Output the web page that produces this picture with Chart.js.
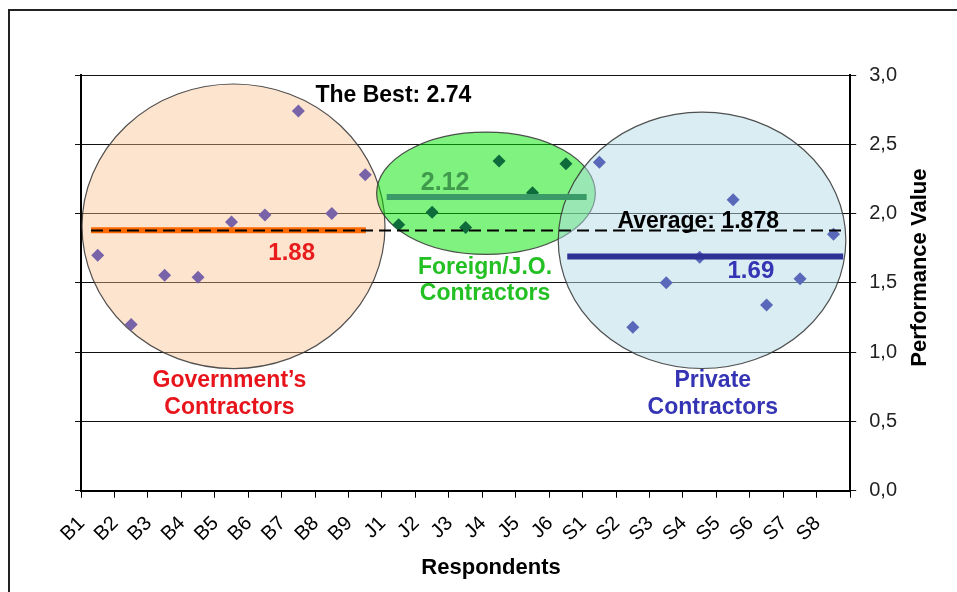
<!DOCTYPE html>
<html>
<head>
<meta charset="utf-8">
<title>Performance Value by Respondent</title>
<script src="https://cdn.jsdelivr.net/npm/chart.js@4/dist/chart.umd.min.js"></script>
<style>
  html, body { margin: 0; padding: 0; background: #fff; }
  #wrap { width: 957px; height: 592px; position: relative; }
</style>
</head>
<body>
<div id="wrap"><canvas id="chart" width="957" height="592"></canvas></div>
<script>
// ---- data ----
const govRespondents = ['B1', 'B2', 'B3', 'B4', 'B5', 'B6', 'B7', 'B8', 'B9'];
const foreignRespondents = ['J1', 'J2', 'J3', 'J4', 'J5', 'J6'];
const privateRespondents = ['S1', 'S2', 'S3', 'S4', 'S5', 'S6', 'S7', 'S8'];

const govValues = [1.70, 1.20, 1.555, 1.54, 1.94, 1.99, 2.74, 2.00, 2.28];
const foreignValues = [1.92, 2.01, 1.90, 2.38, 2.15, 2.36];
const privateValues = [2.37, 1.18, 1.50, 1.685, 2.10, 1.34, 1.53, 1.85];

const groupMeans = [1.88, 2.12, 1.69];   // Government, Foreign/J.O., Private
const overallAverage = 1.878;
const bestValue = 2.74;

const yTickValues = [0, 0.5, 1.0, 1.5, 2.0, 2.5, 3.0];

// ---- derived series ----
const respondents = [...govRespondents, ...foreignRespondents, ...privateRespondents];
const performance = [...govValues, ...foreignValues, ...privateValues];

const FONT = "'Liberation Sans', Arial, Helvetica, sans-serif";
const pointColors = [
  ...govValues.map(() => '#7862a8'),
  ...foreignValues.map(() => '#0e6b3b'),
  ...privateValues.map(() => '#5a68ba')
];

// Horizontal extent of each mean bar, in category-index units
const meanSpans = [[-0.2, 8.02], [8.64, 14.62], [14.04, 22.29]];
const meanColors = ['#ff6a00', '#3a9a68', '#2e3196'];
const averageSpan = [-0.2, 22.38];

// Group outlines (category-index / value units)
const groupShapes = [
  { cx: 4.06, rx: 4.53, cy: 1.908, ry: 1.027, fill: 'rgba(250,190,140,0.42)' },
  { cx: 11.61, rx: 3.27, cy: 2.147, ry: 0.441, fill: 'rgba(0,230,0,0.5)' },
  { cx: 18.07, rx: 4.30, cy: 1.807, ry: 0.925, fill: 'rgba(180,220,230,0.5)' }
];

// Text annotations (category-index / value units)
const notes = [
  { text: 'The Best: ' + bestValue.toFixed(2), x: 6.51, y: 2.85, color: '#000', size: 23, align: 'left' },
  { text: groupMeans[0].toFixed(2), x: 5.80, y: 1.71, color: '#e81c1c', size: 24, align: 'center' },
  { text: 'Government\u2019s', x: 3.94, y: 0.795, color: '#e8141c', size: 23, align: 'center' },
  { text: 'Contractors', x: 3.94, y: 0.60, color: '#e8141c', size: 23, align: 'center' },
  { text: groupMeans[1].toFixed(2), x: 10.39, y: 2.219, color: '#3f9a4c', size: 25, align: 'center' },
  { text: 'Foreign/J.O.', x: 11.58, y: 1.612, color: '#22c022', size: 23, align: 'center' },
  { text: 'Contractors', x: 11.58, y: 1.424, color: '#22c022', size: 23, align: 'center' },
  { text: 'Average: ' + overallAverage.toFixed(3), x: 15.54, y: 1.945, color: '#000', size: 23, align: 'left' },
  { text: groupMeans[2].toFixed(2), x: 19.53, y: 1.583, color: '#3434b4', size: 24, align: 'center' },
  { text: 'Private', x: 18.39, y: 0.795, color: '#3434b4', size: 23, align: 'center' },
  { text: 'Contractors', x: 18.39, y: 0.60, color: '#3434b4', size: 23, align: 'center' }
];

const decor = {
  id: 'decor',
  beforeDraw(chart) {
    const ctx = chart.ctx;
    ctx.save();
    ctx.fillStyle = '#fff';
    ctx.fillRect(0, 0, chart.width, chart.height);
    ctx.strokeStyle = '#222';
    ctx.lineWidth = 2;
    ctx.strokeRect(9, 10, chart.width + 20, chart.height + 20);
    ctx.restore();
  },
  beforeDatasetsDraw(chart) {
    const ctx = chart.ctx;
    const xs = chart.scales.xs, y = chart.scales.y;
    ctx.save();
    groupShapes.forEach(s => {
      const px = xs.getPixelForValue(s.cx);
      const rx = xs.getPixelForValue(s.cx + s.rx) - px;
      const py = y.getPixelForValue(s.cy);
      const ry = py - y.getPixelForValue(s.cy + s.ry);
      ctx.beginPath();
      ctx.ellipse(px, py, rx, ry, 0, 0, Math.PI * 2);
      ctx.fillStyle = s.fill;
      ctx.fill();
      ctx.strokeStyle = 'rgba(50,50,50,0.85)';
      ctx.lineWidth = 1.2;
      ctx.stroke();
    });
    ctx.restore();
  },
  afterDatasetsDraw(chart) {
    const ctx = chart.ctx;
    const xs = chart.scales.xs, y = chart.scales.y;
    const area = chart.chartArea;
    ctx.save();
    ctx.textBaseline = 'middle';
    notes.forEach(n => {
      ctx.font = 'bold ' + n.size + 'px ' + FONT;
      ctx.fillStyle = n.color;
      ctx.textAlign = n.align;
      ctx.fillText(n.text, xs.getPixelForValue(n.x), y.getPixelForValue(n.y));
    });
    // axis titles
    ctx.fillStyle = '#000';
    ctx.font = 'bold 22px ' + FONT;
    ctx.textAlign = 'center';
    ctx.fillText('Respondents', xs.getPixelForValue(11.76), area.bottom + 77);
    ctx.translate(area.right + 70, y.getPixelForValue(1.61));
    ctx.rotate(-Math.PI / 2);
    ctx.fillText('Performance Value', 0, 0);
    ctx.restore();
  }
};

const datasets = [
  {
    label: 'Overall average',
    xAxisID: 'xs', yAxisID: 'y',
    data: averageSpan.map(v => ({ x: v, y: overallAverage })),
    borderColor: '#000', borderWidth: 2, borderDash: [12, 6],
    pointRadius: 0, order: 0
  },
  ...groupMeans.map((m, i) => ({
    label: 'Group mean ' + (i + 1),
    xAxisID: 'xs', yAxisID: 'y',
    data: meanSpans[i].map(v => ({ x: v, y: m })),
    borderColor: meanColors[i], borderWidth: 6,
    pointRadius: 0, order: 1
  })),
  {
    label: 'Performance Value',
    xAxisID: 'x', yAxisID: 'y',
    data: performance,
    showLine: false,
    pointStyle: 'rectRot',
    pointRadius: 6.5,
    pointBackgroundColor: pointColors,
    pointBorderWidth: 0,
    order: 2
  }
];

new Chart(document.getElementById('chart'), {
  type: 'line',
  data: { labels: respondents, datasets },
  options: {
    responsive: false,
    animation: false,
    devicePixelRatio: 1,
    layout: { padding: { left: 75, right: 47, top: 75, bottom: 32 } },
    plugins: { legend: { display: false }, tooltip: { enabled: false } },
    scales: {
      x: {
        type: 'category',
        offset: true,
        grid: { offset: true, drawOnChartArea: false, drawTicks: true, tickLength: 7, color: '#000', lineWidth: 1 },
        border: { display: true, color: '#000', width: 2 },
        ticks: {
          minRotation: 45, maxRotation: 45, autoSkip: false,
          color: '#000', font: { family: FONT, size: 20 }, padding: 14, labelOffset: -16
        }
      },
      xs: { type: 'linear', display: false, min: -0.5, max: 22.5 },
      y: {
        position: 'right',
        min: 0, max: 3,
        afterBuildTicks(scale) { scale.ticks = yTickValues.map(v => ({ value: v })); },
        grid: { color: '#111', lineWidth: 1, drawTicks: true, tickLength: 6 },
        border: { display: true, color: '#000', width: 2 },
        ticks: {
          color: '#222', font: { family: FONT, size: 20 }, padding: 13,
          callback: v => v.toFixed(1).replace('.', ',')
        }
      },
      yL: {
        position: 'left',
        min: 0, max: 3,
        afterBuildTicks(scale) { scale.ticks = yTickValues.map(v => ({ value: v })); },
        grid: { drawOnChartArea: false, drawTicks: true, tickLength: 6, color: '#111' },
        border: { display: true, color: '#000', width: 2 },
        ticks: { display: false }
      }
    }
  },
  plugins: [decor]
});
</script>
</body>
</html>
